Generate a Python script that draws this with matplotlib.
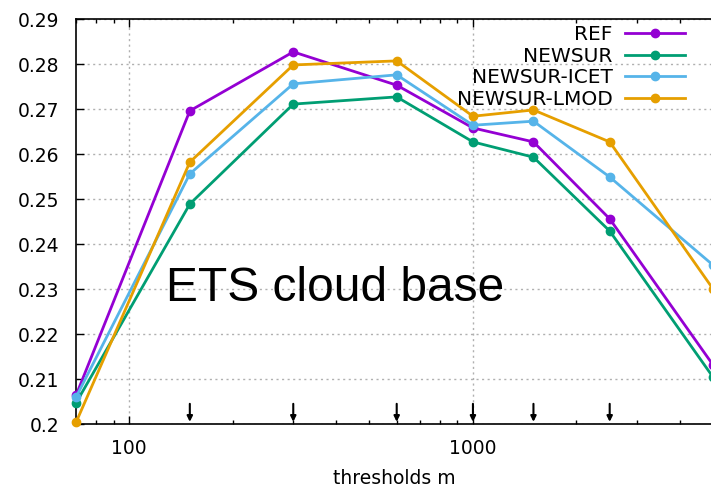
#!/usr/bin/env python3
"""Chart: ETS cloud base vs threshold for REF and NEWSUR variants."""

import matplotlib
matplotlib.use("Agg")
import matplotlib.pyplot as plt
import matplotlib.ticker as mticker

# Data
thresholds = [70, 150, 300, 600, 1000, 1500, 2500, 5000]
ref = [0.2064, 0.2696, 0.2827, 0.2753, 0.2658, 0.2627, 0.2456, 0.2131]
newsur = [0.2047, 0.2489, 0.2711, 0.2727, 0.2627, 0.2593, 0.2429, 0.2104]
newsur_icet = [0.2060, 0.2556, 0.2756, 0.2776, 0.2664, 0.2673, 0.2549, 0.2353]
newsur_lmod = [0.2004, 0.2582, 0.2798, 0.2807, 0.2684, 0.2698, 0.2627, 0.2300]
arrow_x = [150, 300, 600, 1000, 1500, 2500]

series = [
    ("REF", ref, "#9400D3"),
    ("NEWSUR", newsur, "#009E73"),
    ("NEWSUR-ICET", newsur_icet, "#56B4E9"),
    ("NEWSUR-LMOD", newsur_lmod, "#E69F00"),
]

fig = plt.figure(figsize=(7.11, 4.88), dpi=100)
ax = fig.add_axes([0.107, 0.131, 0.896, 0.830])

for name, vals, col in series:
    ax.plot(thresholds, vals, color=col, linewidth=2, marker="o", markersize=6,
            label=name, clip_on=False, zorder=3)

ax.set_xscale("log")
ax.set_xlim(70, 5000)
ax.set_ylim(0.2, 0.29)
ax.yaxis.set_major_locator(mticker.MultipleLocator(0.01))
ax.yaxis.set_major_formatter(mticker.FuncFormatter(lambda v, p: f"{v:.2f}".rstrip("0")))
ax.xaxis.set_major_locator(mticker.LogLocator(base=10))
ax.xaxis.set_major_formatter(mticker.FuncFormatter(lambda v, p: f"{v:g}"))
ax.xaxis.set_minor_locator(mticker.LogLocator(base=10, subs=range(2, 10)))
ax.xaxis.set_minor_formatter(mticker.NullFormatter())

ax.tick_params(axis="both", which="major", direction="in", length=6, width=1,
               labelsize=13.5, top=True, right=False)
ax.tick_params(axis="y", which="major", pad=12)
ax.tick_params(axis="x", which="major", pad=11)
ax.tick_params(axis="x", which="minor", direction="in", length=3, width=1, top=True)
ax.grid(True, which="major", color="#b0b0b0", linestyle=(0, (1.5, 2.5)), linewidth=1)
for s in ax.spines.values():
    s.set_linewidth(1.2)

for xa in arrow_x:
    ax.annotate("", xy=(xa, 0.2005), xytext=(xa, 0.2045),
                arrowprops=dict(arrowstyle="-|>", color="black", lw=1.5,
                                mutation_scale=8, shrinkA=0, shrinkB=0))

ax.text(397, 0.2302, "ETS cloud base", fontsize=34.5,
        family="Liberation Sans", ha="center", va="center")

ax.set_xlabel("thresholds m", fontsize=13.5, labelpad=8)

leg = ax.legend(loc="upper right", bbox_to_anchor=(0.975, 1.015), frameon=False,
                markerfirst=False, fontsize=14.5, handlelength=3.0,
                handletextpad=0.6, labelspacing=0.13, borderaxespad=0.2)
for t in leg.get_texts():
    t.set_ha("right")

fig.savefig("out.png", dpi=100)
